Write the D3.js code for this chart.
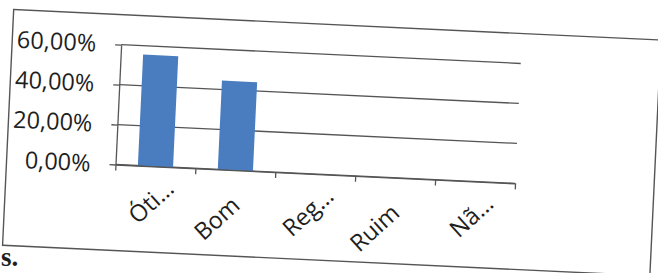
<!DOCTYPE html>
<html lang="pt">
<head>
<meta charset="UTF-8">
<title>Avaliação</title>
<script src="https://d3js.org/d3.v7.min.js"></script>
<style>
  body { margin: 0; background: #fff; }
  text { font-family: "Open Sans", sans-serif; fill: #1e1e1e; }
</style>
</head>
<body>
<script>
var categorias = ["Óti…", "Bom", "Reg…", "Ruim", "Nã…"];
var valores = [0.5556, 0.4444, 0, 0, 0];
var ticksY = [0, 0.2, 0.4, 0.6];

var W = 658, H = 273;
var inclinacao = 2.7;           // the scanned page is a little tilted
var origem = [115.5, 164.5];    // where the two axes meet
var largura = 400, altura = 120;

var svg = d3.select("body").append("svg")
  .attr("width", W)
  .attr("height", H);

var g = svg.append("g")
  .attr("transform", `translate(${origem}) rotate(${inclinacao}) translate(0,${-altura})`);

var x = d3.scaleBand().domain(categorias).range([0, largura]);
var xBordas = d3.scaleLinear().domain([0, categorias.length]).range([0, largura]);
var y = d3.scaleLinear().domain([0, 0.6]).range([altura, 0]);

var cinza = "#555";

// chart border
g.append("rect")
  .attr("x", -109).attr("y", -30)
  .attr("width", 648).attr("height", 236)
  .attr("fill", "none")
  .attr("stroke", cinza)
  .attr("stroke-width", 1.4);

// gridlines
g.selectAll(".grade")
  .data(ticksY)
  .enter()
  .append("line")
  .attr("x1", 0).attr("x2", largura)
  .attr("y1", d => y(d)).attr("y2", d => y(d))
  .attr("stroke", cinza)
  .attr("stroke-width", 1.3);

// bars
var larguraBarra = x.bandwidth() * 0.44;
g.selectAll(".barra")
  .data(valores)
  .enter()
  .append("rect")
  .attr("x", (d, i) => x(categorias[i]) + (x.bandwidth() - larguraBarra) / 2)
  .attr("y", d => y(d))
  .attr("width", larguraBarra)
  .attr("height", d => altura - y(d))
  .attr("fill", "#4a7dbf");

// y axis
var eixoY = d3.axisLeft(y)
  .tickValues(ticksY)
  .tickSize(6)
  .tickSizeOuter(0)
  .tickPadding(19)
  .tickFormat(d => d3.format(".2f")(d * 100).replace(".", ",") + "%");

var gy = g.append("g").call(eixoY);
gy.select(".domain").attr("stroke", cinza).attr("stroke-width", 1.3);
gy.selectAll(".tick line").attr("stroke", cinza).attr("stroke-width", 1.3);
gy.selectAll(".tick text").attr("font-size", 23.5).style("font-family", "Open Sans");

// x axis: ticks on the band edges
var eixoX = d3.axisBottom(xBordas)
  .tickValues(d3.range(categorias.length + 1))
  .tickSize(6)
  .tickSizeOuter(0)
  .tickFormat("");

var gx = g.append("g").attr("transform", `translate(0,${altura})`).call(eixoX);
gx.select(".domain").attr("stroke", cinza).attr("stroke-width", 1.3);
gx.selectAll(".tick line").attr("stroke", cinza).attr("stroke-width", 1.3);

// category labels, slanted
var angulo = 45;
g.selectAll(".rotulo")
  .data(categorias)
  .enter()
  .append("text")
  .attr("transform", d => `translate(${x(d) + x.bandwidth() / 2 + 2},${altura}) rotate(${-angulo})`)
  .attr("x", d => d.endsWith("…") ? -3 : -22)
  .attr("y", 30)
  .attr("text-anchor", "end")
  .attr("font-size", 23.5)
  .text(d => d);

// bit of the page text under the chart
svg.append("text")
  .attr("x", 1).attr("y", 266)
  .style("font-family", "Liberation Serif")
  .attr("font-weight", "bold")
  .attr("font-size", 27)
  .text("s.");
</script>
</body>
</html>
